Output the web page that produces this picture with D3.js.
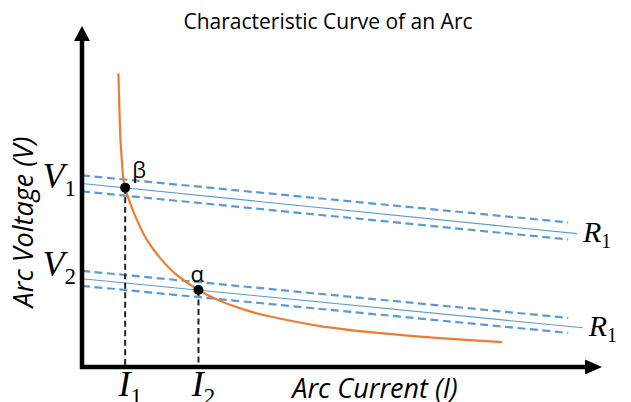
<!DOCTYPE html>
<html lang="en">
    <head>
        <meta charset="utf-8">
        <title>Characteristic Curve of an Arc</title>
        <script src="https://d3js.org/d3.v7.min.js"></script>
        <style type="text/css">
            body { margin: 0; background: white; }
            .title { font-family: "Open Sans", sans-serif; font-size: 21px; }
            .axis-title { font-family: "Open Sans", sans-serif; font-style: italic; font-size: 27px; }
            .math { font-family: "Liberation Serif", serif; font-style: italic; }
            .math tspan.sub { font-style: normal; }
            .greek { font-family: "Open Sans", sans-serif; font-size: 22px; }
        </style>
    </head>
    <body>
        <svg width="631" height="402"></svg>
        <script type="text/javascript">

            // arc characteristic (current, voltage)
            const arcCurrent = [0.70, 0.72, 0.74, 0.77, 0.79, 0.83, 0.89, 1.02, 1.24, 1.50, 1.82, 2.24, 2.65, 3.23, 3.62, 4.58, 5.54, 6.50, 7.46, 8.08];
            const arcVoltage = [8.61, 7.54, 6.66, 5.98, 5.57, 5.26, 4.96, 4.44, 3.75, 3.20, 2.70, 2.26, 1.94, 1.63, 1.48, 1.20, 1.02, 0.89, 0.79, 0.73];

            // load lines R1: [i0, v0, i1, v1]
            const loadCentre = [[0, 5.38, 9.52, 3.91], [0, 2.59, 9.63, 1.15]];
            const loadBandTop = [[0, 5.62, 9.35, 4.24], [0, 2.82, 9.35, 1.44]];
            const loadBandBottom = [[0, 5.15, 9.35, 3.74], [0, 2.38, 9.35, 1.00]];
            const loadNames = ["1", "1"];

            // operating points
            const opNames = ["β", "α"];
            const opCurrent = [0.83, 2.24];
            const opVoltage = [5.26, 2.26];

            // axis markers
            const vTickSubs = ["1", "2"];
            const vTickValues = [5.24, 2.68];
            const iTickSubs = ["1", "2"];
            const iTickValues = [0.83, 2.24];

            const svg = d3.select("svg");
            const x = d3.scaleLinear().domain([0, 10]).range([82, 602]);
            const y = d3.scaleLinear().domain([0, 10]).range([367, 26]);

            const blue = "#5b9bd5";
            const orange = "#ed7d31";

            svg.append("text")
               .attr("class", "title")
               .attr("x", 328)
               .attr("y", 29)
               .attr("text-anchor", "middle")
               .text("Characteristic Curve of an Arc");

            // load lines
            const lineGroup = svg.append("g");
            lineGroup.selectAll(".band")
                .data(loadBandTop.concat(loadBandBottom))
                .enter()
                .append("line")
                .attr("x1", d => x(d[0]))
                .attr("y1", d => y(d[1]))
                .attr("x2", d => x(d[2]))
                .attr("y2", d => y(d[3]))
                .style("stroke", blue)
                .style("stroke-width", 2.2)
                .style("stroke-dasharray", "8,4.5");

            lineGroup.selectAll(".centre")
                .data(loadCentre)
                .enter()
                .append("line")
                .attr("x1", d => x(d[0]))
                .attr("y1", d => y(d[1]))
                .attr("x2", d => x(d[2]))
                .attr("y2", d => y(d[3]))
                .style("stroke", blue)
                .style("stroke-width", 1.1);

            const rLabels = svg.selectAll(".rlabel")
                .data(loadCentre)
                .enter()
                .append("text")
                .attr("class", "math")
                .attr("x", d => x(d[2]) + 6)
                .attr("y", d => y(d[3]) + 8)
                .style("font-size", "30px");
            rLabels.append("tspan").text("R");
            rLabels.append("tspan").attr("class", "sub").attr("dy", 6).style("font-size", "20px").text((d, i) => loadNames[i]);

            // arc curve
            const arcLine = d3.line()
                .x(d => x(d[0]))
                .y(d => y(d[1]))
                .curve(d3.curveCatmullRom.alpha(0.5));
            svg.append("path")
               .datum(arcCurrent.map((c, i) => [c, arcVoltage[i]]))
               .attr("d", arcLine)
               .style("fill", "none")
               .style("stroke", orange)
               .style("stroke-width", 2.2);

            // drop lines
            svg.selectAll(".drop")
               .data(opCurrent)
               .enter()
               .append("line")
               .attr("x1", d => x(d))
               .attr("x2", d => x(d))
               .attr("y1", (d, i) => y(opVoltage[i]))
               .attr("y2", y(0))
               .style("stroke", "#222")
               .style("stroke-width", 2)
               .style("stroke-dasharray", "6,3.5");

            svg.selectAll(".op")
               .data(opCurrent)
               .enter()
               .append("circle")
               .attr("cx", d => x(d))
               .attr("cy", (d, i) => y(opVoltage[i]))
               .attr("r", 5)
               .style("fill", "black");

            svg.selectAll(".opname")
               .data(opNames)
               .enter()
               .append("text")
               .attr("class", "greek")
               .attr("x", (d, i) => x(opCurrent[i]) + (i === 0 ? 7 : -8))
               .attr("y", (d, i) => y(opVoltage[i]) - (i === 0 ? 10 : 8))
               .text(d => d);

            // axes
            const x0 = x(0), y0 = y(0), xEnd = x(10), yEnd = y(10);
            svg.append("line")
               .attr("x1", x0).attr("y1", y0 + 2)
               .attr("x2", x0).attr("y2", yEnd + 14)
               .style("stroke", "black").style("stroke-width", 4.5);
            svg.append("line")
               .attr("x1", x0 - 2).attr("y1", y0)
               .attr("x2", xEnd - 16).attr("y2", y0)
               .style("stroke", "black").style("stroke-width", 4.5);
            svg.append("path")
               .attr("d", `M${x0},${yEnd} L${x0 - 8},${yEnd + 15} L${x0 + 8},${yEnd + 15} Z`)
               .style("fill", "black");
            svg.append("path")
               .attr("d", `M${xEnd},${y0} L${xEnd - 17},${y0 - 7.5} L${xEnd - 17},${y0 + 7.5} Z`)
               .style("fill", "black");

            // V markers
            const vLabels = svg.selectAll(".vlabel")
                .data(vTickValues)
                .enter()
                .append("text")
                .attr("class", "math")
                .attr("x", x0 - 6)
                .attr("y", d => y(d))
                .attr("text-anchor", "end")
                .style("font-size", "36px");
            vLabels.append("tspan").text("V");
            vLabels.append("tspan").attr("class", "sub").attr("dy", 8).style("font-size", "23px").text((d, i) => vTickSubs[i]);

            // I markers
            const iLabels = svg.selectAll(".ilabel")
                .data(iTickValues)
                .enter()
                .append("text")
                .attr("class", "math")
                .attr("x", d => x(d) + 5)
                .attr("y", y0 + 29)
                .attr("text-anchor", "middle")
                .style("font-size", "36px");
            iLabels.append("tspan").text("I");
            iLabels.append("tspan").attr("class", "sub").attr("dy", 8).style("font-size", "23px").text((d, i) => iTickSubs[i]);

            svg.append("text")
               .attr("class", "axis-title")
               .attr("x", 375)
               .attr("y", 398)
               .attr("text-anchor", "middle")
               .text("Arc Current (I)");

            svg.append("text")
               .attr("class", "axis-title")
               .attr("transform", "translate(33,222) rotate(-90)")
               .attr("text-anchor", "middle")
               .text("Arc Voltage (V)");

        </script>
    </body>
</html>
